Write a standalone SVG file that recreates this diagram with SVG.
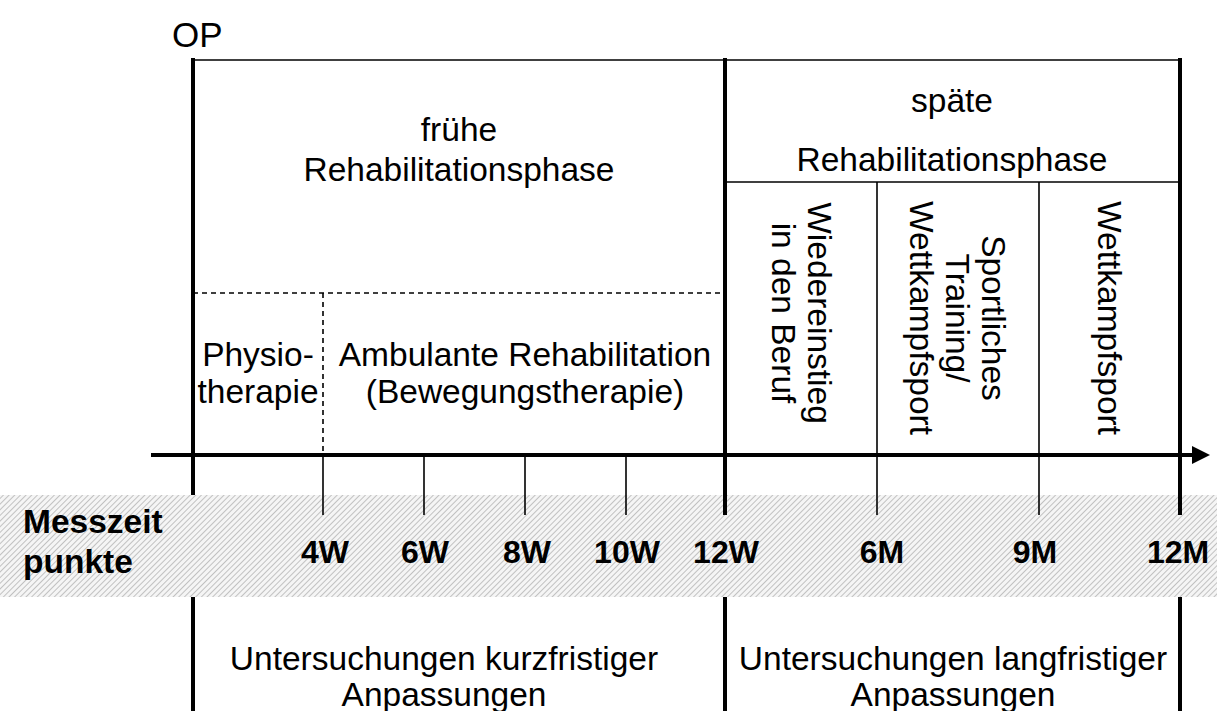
<svg xmlns="http://www.w3.org/2000/svg" width="1217" height="711" viewBox="0 0 1217 711">
<defs>
<pattern id="hatch" width="4" height="4" patternUnits="userSpaceOnUse" patternTransform="rotate(45)">
<rect width="4" height="4" fill="#f5f5f5"/>
<line x1="0" y1="0" x2="0" y2="4" stroke="#b0b0b0" stroke-width="1.5"/>
</pattern>
</defs>
<style>
text{font-family:"Liberation Sans",Arial,sans-serif;fill:#000}
.t{font-size:33.5px;text-anchor:middle}
.b{font-size:33.5px;font-weight:bold}
.bc{font-size:32px;font-weight:bold;text-anchor:middle}
.thick{stroke:#000;stroke-width:4;fill:none}
.thin{stroke:#000;stroke-width:1.6;fill:none}
.dash{stroke:#000;stroke-width:1.6;stroke-dasharray:5,4;fill:none}
</style>
<rect id="band" x="0" y="495" width="1217" height="102" fill="url(#hatch)"/>
<g id="connectors">
<line class="thin" x1="193" y1="60" x2="1181" y2="60"/>
<line class="thin" x1="725" y1="182" x2="1180" y2="182"/>
<line class="thick" x1="193" y1="58" x2="193" y2="495"/>
<line class="thick" x1="725" y1="58" x2="725" y2="515"/>
<line class="thick" x1="1180" y1="58" x2="1180" y2="515"/>
<line class="thin" x1="877" y1="182" x2="877" y2="515"/>
<line class="thin" x1="1039" y1="182" x2="1039" y2="515"/>
<line class="dash" x1="193" y1="293" x2="725" y2="293"/>
<line class="dash" x1="323" y1="293" x2="323" y2="455"/>
<line class="thin" x1="323" y1="455" x2="323" y2="515"/>
<line class="thin" x1="424" y1="455" x2="424" y2="515"/>
<line class="thin" x1="525" y1="455" x2="525" y2="515"/>
<line class="thin" x1="626" y1="455" x2="626" y2="515"/>
<line class="thick" x1="151" y1="455" x2="1194" y2="455"/>
<polygon points="1192,446 1210,455 1192,464" fill="#000"/>
<line class="thick" x1="193" y1="597" x2="193" y2="711"/>
<line class="thick" x1="725" y1="597" x2="725" y2="711"/>
<line class="thick" x1="1180" y1="597" x2="1180" y2="711"/>
</g>
<g id="op"><text x="172" y="47" style="font-size:35px">OP</text></g>
<g id="fruehe">
<text class="t" x="459" y="141">frühe</text>
<text class="t" x="459" y="181">Rehabilitationsphase</text>
</g>
<g id="spaete">
<text class="t" x="952" y="112">späte</text>
<text class="t" x="952" y="171">Rehabilitationsphase</text>
</g>
<g id="physio">
<text class="t" x="258" y="366">Physio-</text>
<text class="t" x="258" y="403">therapie</text>
</g>
<g id="ambulant">
<text class="t" x="525" y="366">Ambulante Rehabilitation</text>
<text class="t" x="525" y="403">(Bewegungstherapie)</text>
</g>
<g id="beruf" transform="translate(801,313) rotate(90)">
<text class="t" x="0" y="-7">Wiedereinstieg</text>
<text class="t" x="0" y="29">in den Beruf</text>
</g>
<g id="training" transform="translate(957,318) rotate(90)">
<text class="t" x="0" y="-25">Sportliches</text>
<text class="t" x="0" y="11">Training/</text>
<text class="t" x="0" y="47">Wettkampfsport</text>
</g>
<g id="wettkampf" transform="translate(1098,318) rotate(90)">
<text class="t" x="0" y="0">Wettkampfsport</text>
</g>
<g id="messzeit">
<text class="b" x="23" y="533">Messzeit</text>
<text class="b" x="23" y="573">punkte</text>
</g>
<g id="ticks">
<text class="bc" x="325" y="563">4W</text>
<text class="bc" x="425" y="563">6W</text>
<text class="bc" x="527" y="563">8W</text>
<text class="bc" x="627" y="563">10W</text>
<text class="bc" x="726" y="563">12W</text>
<text class="bc" x="882" y="563">6M</text>
<text class="bc" x="1035" y="563">9M</text>
<text class="bc" x="1178" y="563">12M</text>
</g>
<g id="kurz">
<text class="t" x="444" y="670">Untersuchungen kurzfristiger</text>
<text class="t" x="444" y="706">Anpassungen</text>
</g>
<g id="lang">
<text class="t" x="953" y="670">Untersuchungen langfristiger</text>
<text class="t" x="953" y="706">Anpassungen</text>
</g>
</svg>
